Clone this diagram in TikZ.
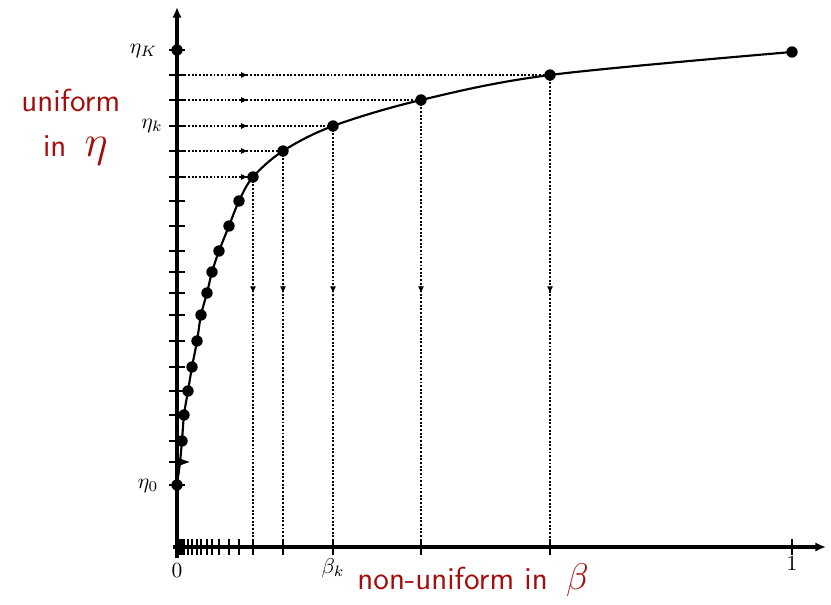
\documentclass[tikz,border=0pt]{standalone}
\usetikzlibrary{arrows.meta,decorations.markings}
\definecolor{labelred}{RGB}{165,12,12}
\begin{document}
\begin{tikzpicture}[x=0.465pt,y=-0.465pt,
  axisline/.style={line width=1.4pt,-{Latex[length=5pt,width=4.4pt]}},
  curveline/.style={line width=1pt},
  tickmark/.style={line width=0.9pt},
  guide/.style={line width=0.55pt,dash pattern=on 0.9pt off 0.8pt},
  hguide/.style={guide,postaction={decorate},decoration={markings,
      mark=at position 33pt with {\arrow{Latex[length=3.2pt,width=2.8pt]}}}},
  vguide/.style={guide,postaction={decorate},decoration={markings,
      mark=at position -118pt with {\arrow{Latex[length=3.2pt,width=2.8pt]}}}},
  dotmark/.style={circle,fill=black,inner sep=0pt,minimum size=5.3pt},
  redtext/.style={text=labelred,font=\sffamily\fontsize{14.8}{18}\selectfont,inner sep=0pt,anchor=base west}
]
\useasboundingbox (0,0) rectangle (831,605);

% curve points
\foreach \i/\x/\y in {0/177/485,1/180/462,2/182/441,3/184/415,4/188/391,5/192/367,
    6/197/341,7/201/315,8/207/293,9/212/272,10/219/251,11/229/226,12/239/201,
    13/253/177,14/283/151,15/333/126,16/421/100,17/550/75,18/792/52}
  {\coordinate (c\i) at (\x,\y); \coordinate (b\i) at (\x,547);}
% y-axis tick points
\foreach \i/\y in {0/485,1/462,2/441,3/415,4/391,5/367,6/341,7/315,8/293,9/272,
    10/251,11/226,12/201,13/177,14/151,15/126,16/100,17/75,18/50}
  {\coordinate (t\i) at (177,\y);}

% axes
\coordinate (xo) at (173,547); \coordinate (xe) at (826,547);
\coordinate (yo) at (177,558); \coordinate (ye) at (177,7);
\draw[axisline] (xo) -- (xe);
\draw[axisline] (yo) -- (ye);

% ticks
\foreach \i in {0,...,18} {\draw[tickmark] (t\i) ++(-8,0) -- ++(16,0);}
\foreach \i in {1,...,18} {\draw[tickmark] (b\i) ++(0,-8) -- ++(0,16);}

% guides
\foreach \i in {13,...,17} {
  \draw[hguide] (t\i) -- (c\i);
  \draw[vguide] (c\i) -- (b\i);
}
\coordinate (h1) at (190,462);
\draw[line width=0.5pt,-{Latex[length=5.5pt,width=4.4pt]}] (t1) -- (h1);

% curve
\draw[curveline] plot[smooth,tension=0.55] coordinates {(c0) (c1) (c2) (c3) (c4) (c5) (c6)
  (c7) (c8) (c9) (c10) (c11) (c12) (c13) (c14) (c15) (c16) (c17) (c18)};

% dots
\foreach \i in {0,2,3,...,18} {\node[dotmark] (d\i) at (c\i) {};}
\node[dotmark] (dK) at (t18) {};

% tick labels
\node (l0) at (148,486) {$\eta_0$};
\node (lK) at (143.5,51) {$\eta_K$};
\node (lk) at (152,126) {$\eta_k$};
\node (x0) at (177,571) {$0$};
\node (xb) at (333,568) {$\beta_k$};
\node (x1) at (792,564) {$1$};

% red labels
\node[redtext] (u1) at (21,112) {uniform};
\node[redtext] (u2) at (42.7,157) {in\hspace{8.5pt}{\fontsize{20}{24}\selectfont$\eta$}};
\node[redtext] (nb) at (357,589) {non-uniform in\hspace{8.5pt}{\fontsize{18}{22}\selectfont$\beta$}};
\end{tikzpicture}
\end{document}
